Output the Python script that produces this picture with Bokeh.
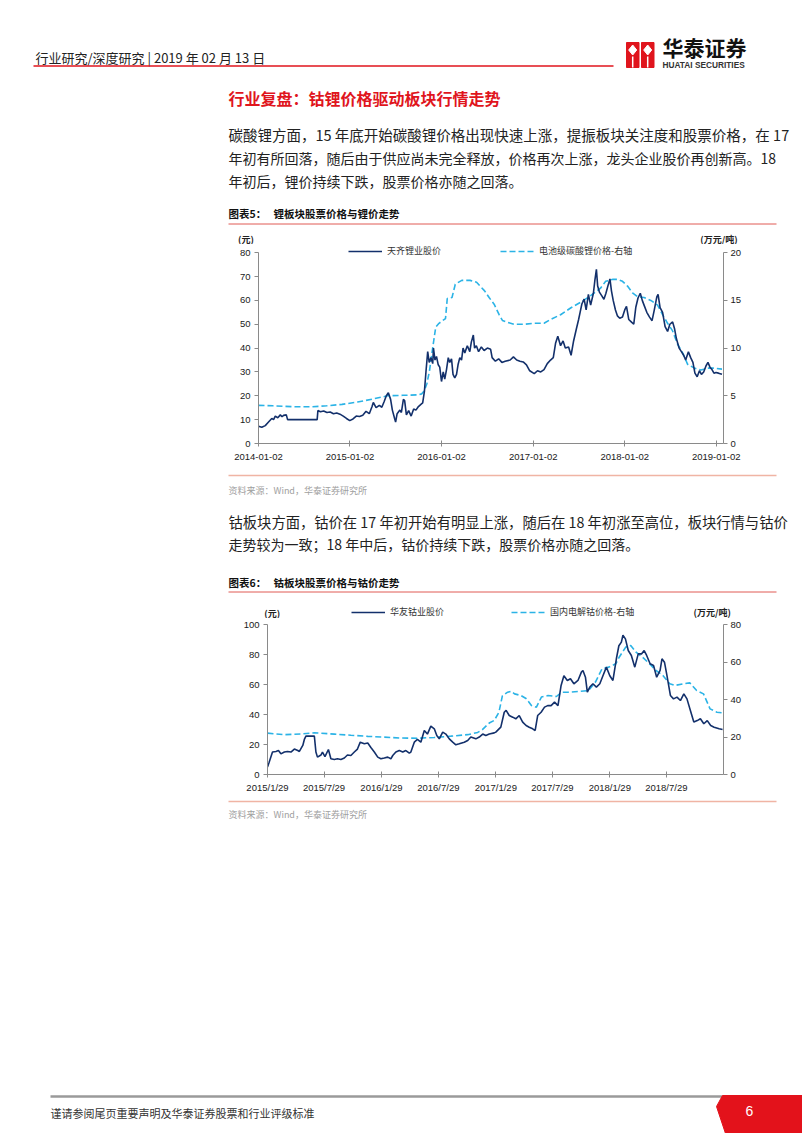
import pandas as pd
from bokeh.plotting import figure
from bokeh.layouts import column
from bokeh.models import (Range1d, LinearAxis, FixedTicker, CustomJSTickFormatter,
                          Legend, LegendItem)
from bokeh.core.properties import value
from bokeh.embed import file_html
from bokeh.resources import INLINE

# ---------------- data ----------------
# 图表5: 天齐锂业股价 (元, left axis)
tianqi = [
    ("2014-01-02", 7.2), ("2014-01-15", 6.8), ("2014-01-29", 7.5), ("2014-02-11", 9.0),
    ("2014-02-24", 10.5), ("2014-03-03", 10.0), ("2014-03-10", 11.5), ("2014-03-20", 10.8),
    ("2014-03-30", 12.0), ("2014-04-06", 11.2), ("2014-04-12", 11.8), ("2014-04-23", 12.0),
    ("2014-04-28", 10.0), ("2014-08-24", 10.0), ("2014-08-27", 13.8), ("2014-09-06", 13.3),
    ("2014-09-19", 13.6), ("2014-10-02", 13.0), ("2014-10-15", 13.2), ("2014-10-28", 12.5),
    ("2014-11-10", 12.8), ("2014-11-23", 12.3), ("2014-12-06", 11.5), ("2014-12-19", 10.5),
    ("2015-01-01", 9.6), ("2015-01-14", 10.3), ("2015-01-27", 11.5), ("2015-02-09", 11.3),
    ("2015-02-22", 11.8), ("2015-03-07", 13.5), ("2015-03-20", 12.5), ("2015-03-31", 15.5),
    ("2015-04-05", 17.2), ("2015-04-16", 15.0), ("2015-04-29", 16.0), ("2015-05-09", 15.2),
    ("2015-05-18", 17.5), ("2015-05-27", 20.0), ("2015-06-04", 21.3), ("2015-06-13", 18.5),
    ("2015-06-20", 14.0), ("2015-06-29", 10.5), ("2015-07-03", 9.0), ("2015-07-09", 12.5),
    ("2015-07-20", 14.0), ("2015-07-26", 13.0), ("2015-08-03", 18.5), ("2015-08-08", 18.0),
    ("2015-08-15", 12.0), ("2015-08-24", 13.8), ("2015-09-03", 11.5), ("2015-09-13", 14.5),
    ("2015-09-22", 14.0), ("2015-10-02", 15.5), ("2015-10-13", 16.5), ("2015-10-19", 17.0),
    ("2015-10-26", 22.0), ("2015-11-01", 30.0), ("2015-11-08", 38.5), ("2015-11-14", 34.0),
    ("2015-11-21", 36.0), ("2015-11-28", 33.5), ("2015-12-01", 40.0), ("2015-12-07", 35.0),
    ("2015-12-13", 36.5), ("2015-12-20", 33.0), ("2015-12-26", 32.0), ("2016-01-02", 26.0),
    ("2016-01-09", 30.0), ("2016-01-15", 27.0), ("2016-01-22", 31.0), ("2016-01-29", 36.0),
    ("2016-02-04", 34.0), ("2016-02-11", 35.5), ("2016-02-17", 29.0), ("2016-02-24", 27.5),
    ("2016-03-02", 29.0), ("2016-03-08", 33.0), ("2016-03-15", 36.0), ("2016-03-22", 35.0),
    ("2016-03-28", 40.0), ("2016-04-04", 38.0), ("2016-04-14", 41.0), ("2016-04-24", 38.5),
    ("2016-04-30", 42.5), ("2016-05-08", 45.5), ("2016-05-13", 40.0), ("2016-05-20", 41.0),
    ("2016-05-29", 38.5), ("2016-06-09", 40.5), ("2016-06-20", 39.0), ("2016-07-03", 40.0),
    ("2016-07-16", 39.5), ("2016-07-22", 36.0), ("2016-08-04", 34.5), ("2016-08-17", 35.5),
    ("2016-08-30", 34.0), ("2016-09-12", 34.5), ("2016-10-02", 35.0), ("2016-10-15", 36.3),
    ("2016-10-28", 35.0), ("2016-11-10", 34.5), ("2016-11-23", 34.2), ("2016-12-06", 33.0),
    ("2016-12-19", 30.5), ("2017-01-06", 29.3), ("2017-01-19", 30.5), ("2017-02-01", 30.0),
    ("2017-02-14", 31.0), ("2017-02-27", 33.5), ("2017-03-12", 35.0), ("2017-03-23", 36.0),
    ("2017-04-01", 42.0), ("2017-04-10", 45.0), ("2017-04-21", 41.0), ("2017-05-01", 43.0),
    ("2017-05-10", 40.0), ("2017-05-23", 40.5), ("2017-06-02", 37.0), ("2017-06-12", 43.0),
    ("2017-06-23", 48.0), ("2017-07-02", 52.0), ("2017-07-08", 55.0), ("2017-07-15", 58.5),
    ("2017-07-24", 60.5), ("2017-08-01", 56.0), ("2017-08-10", 62.5), ("2017-08-19", 58.0),
    ("2017-08-30", 63.0), ("2017-09-05", 68.5), ("2017-09-11", 73.0), ("2017-09-16", 66.0),
    ("2017-09-23", 63.5), ("2017-10-02", 62.0), ("2017-10-11", 60.5), ("2017-10-19", 63.0),
    ("2017-10-28", 66.5), ("2017-11-04", 69.0), ("2017-11-10", 64.0), ("2017-11-17", 60.0),
    ("2017-11-26", 56.0), ("2017-12-04", 53.5), ("2017-12-13", 52.5), ("2017-12-24", 53.0),
    ("2018-01-02", 56.0), ("2018-01-09", 57.5), ("2018-01-18", 52.0), ("2018-01-28", 51.0),
    ("2018-02-07", 50.0), ("2018-02-15", 57.0), ("2018-02-24", 61.0), ("2018-03-05", 63.0),
    ("2018-03-13", 60.0), ("2018-03-22", 57.5), ("2018-03-31", 55.0), ("2018-04-11", 53.0),
    ("2018-04-21", 51.5), ("2018-04-30", 56.0), ("2018-05-10", 61.5), ("2018-05-15", 62.5),
    ("2018-05-23", 57.0), ("2018-06-02", 55.0), ("2018-06-12", 49.0), ("2018-06-22", 47.0),
    ("2018-07-01", 50.0), ("2018-07-12", 51.0), ("2018-07-20", 48.0), ("2018-07-27", 44.0),
    ("2018-08-07", 40.0), ("2018-08-16", 38.5), ("2018-08-25", 37.0), ("2018-09-02", 35.0),
    ("2018-09-13", 38.5), ("2018-09-22", 36.0), ("2018-10-01", 34.0), ("2018-10-09", 29.5),
    ("2018-10-18", 28.0), ("2018-10-27", 30.5), ("2018-11-04", 29.0), ("2018-11-13", 30.0),
    ("2018-11-22", 32.5), ("2018-11-30", 34.0), ("2018-12-08", 32.0), ("2018-12-16", 31.0),
    ("2018-12-24", 29.5), ("2019-01-01", 29.8), ("2019-01-11", 29.5), ("2019-01-25", 29.0),
]
# 图表5: 电池级碳酸锂价格 (万元/吨, right axis)
li2co3 = [
    ("2014-01-02", 4.0), ("2014-03-01", 3.95), ("2014-06-01", 3.85), ("2014-08-01", 3.85),
    ("2014-10-01", 3.95), ("2014-12-01", 4.1), ("2015-02-01", 4.35), ("2015-04-01", 4.65),
    ("2015-06-01", 5.0), ("2015-08-01", 5.05), ("2015-10-01", 5.1), ("2015-10-15", 5.2),
    ("2015-10-25", 5.5), ("2015-11-05", 6.3), ("2015-11-15", 7.6), ("2015-11-25", 9.5),
    ("2015-12-10", 12.2), ("2015-12-23", 12.6), ("2016-01-18", 13.1), ("2016-01-25", 15.2),
    ("2016-02-13", 15.3), ("2016-02-26", 16.7), ("2016-03-23", 17.1), ("2016-04-25", 17.1),
    ("2016-05-21", 16.9), ("2016-06-22", 16.0), ("2016-07-10", 15.3), ("2016-07-30", 14.6),
    ("2016-08-19", 13.5), ("2016-09-01", 12.9), ("2016-09-21", 12.7), ("2016-10-17", 12.5),
    ("2016-11-26", 12.5), ("2017-01-06", 12.6), ("2017-02-14", 12.6), ("2017-03-12", 13.0),
    ("2017-04-21", 13.5), ("2017-05-31", 14.2), ("2017-07-10", 14.8), ("2017-08-19", 15.5),
    ("2017-09-28", 16.3), ("2017-10-18", 17.0), ("2017-11-14", 17.2), ("2017-12-04", 17.2),
    ("2017-12-24", 17.0), ("2018-01-13", 16.5), ("2018-02-02", 15.8), ("2018-02-22", 15.4),
    ("2018-03-20", 15.3), ("2018-04-16", 15.0), ("2018-05-13", 14.5), ("2018-06-02", 13.5),
    ("2018-06-22", 12.6), ("2018-07-12", 11.8), ("2018-08-01", 10.4), ("2018-08-21", 9.5),
    ("2018-09-10", 8.3), ("2018-10-07", 7.9), ("2018-11-02", 7.7), ("2018-11-29", 7.9),
    ("2018-12-25", 7.9), ("2019-01-25", 7.8),
]
# 图表6: 华友钴业股价 (元, left axis)
huayou = [
    ("2015-01-29", 5.0), ("2015-02-03", 8.0), ("2015-02-14", 15.0), ("2015-02-25", 15.4),
    ("2015-03-05", 16.0), ("2015-03-13", 13.8), ("2015-03-24", 15.0), ("2015-04-03", 15.4),
    ("2015-04-14", 15.0), ("2015-04-25", 17.0), ("2015-05-06", 16.0), ("2015-05-11", 15.4),
    ("2015-05-22", 19.4), ("2015-05-27", 23.4), ("2015-06-01", 25.6), ("2015-06-28", 25.6),
    ("2015-07-03", 15.0), ("2015-07-08", 11.6), ("2015-07-19", 13.0), ("2015-07-24", 15.0),
    ("2015-08-01", 12.0), ("2015-08-12", 16.7), ("2015-08-20", 10.5), ("2015-08-31", 10.0),
    ("2015-09-10", 10.5), ("2015-09-21", 10.0), ("2015-10-02", 11.0), ("2015-10-12", 13.0),
    ("2015-10-23", 12.7), ("2015-11-03", 15.0), ("2015-11-13", 17.0), ("2015-11-22", 21.6),
    ("2015-12-05", 20.5), ("2015-12-16", 21.0), ("2015-12-26", 18.0), ("2016-01-06", 15.0),
    ("2016-01-17", 11.6), ("2016-01-27", 10.5), ("2016-02-07", 11.0), ("2016-02-18", 11.6),
    ("2016-02-28", 10.5), ("2016-03-05", 12.7), ("2016-03-15", 15.0), ("2016-03-26", 16.0),
    ("2016-04-06", 15.0), ("2016-04-16", 16.0), ("2016-04-27", 14.3), ("2016-05-02", 15.0),
    ("2016-05-13", 21.6), ("2016-05-23", 23.4), ("2016-06-03", 21.6), ("2016-06-14", 29.4),
    ("2016-06-24", 27.0), ("2016-07-05", 32.3), ("2016-07-16", 30.5), ("2016-07-24", 26.0),
    ("2016-08-01", 23.8), ("2016-08-12", 28.3), ("2016-08-22", 27.0), ("2016-09-02", 23.8),
    ("2016-09-13", 21.6), ("2016-09-23", 19.8), ("2016-10-04", 20.5), ("2016-10-20", 21.6),
    ("2016-10-31", 22.7), ("2016-11-10", 25.0), ("2016-11-26", 23.8), ("2016-12-07", 25.0),
    ("2016-12-18", 27.0), ("2016-12-28", 26.0), ("2017-01-08", 27.0), ("2017-01-24", 27.8),
    ("2017-01-29", 28.3), ("2017-02-14", 31.6), ("2017-02-25", 41.6), ("2017-03-03", 42.8),
    ("2017-03-13", 39.4), ("2017-03-24", 38.3), ("2017-04-03", 37.2), ("2017-04-14", 39.4),
    ("2017-04-25", 35.0), ("2017-05-06", 32.7), ("2017-05-16", 31.6), ("2017-05-27", 30.5),
    ("2017-06-04", 29.4), ("2017-06-12", 39.4), ("2017-06-23", 41.6), ("2017-07-04", 45.0),
    ("2017-07-14", 46.0), ("2017-07-25", 46.0), ("2017-08-05", 48.3), ("2017-08-16", 46.0),
    ("2017-08-26", 59.5), ("2017-09-04", 66.0), ("2017-09-15", 62.8), ("2017-09-25", 64.0),
    ("2017-10-06", 60.6), ("2017-10-19", 62.8), ("2017-10-30", 68.4), ("2017-11-04", 69.5),
    ("2017-11-12", 65.0), ("2017-11-18", 55.0), ("2017-11-26", 58.4), ("2017-12-06", 60.6),
    ("2017-12-17", 58.4), ("2017-12-28", 60.6), ("2018-01-07", 66.0), ("2018-01-18", 71.7),
    ("2018-01-29", 66.0), ("2018-02-08", 62.8), ("2018-02-19", 77.3), ("2018-02-27", 86.0),
    ("2018-03-07", 88.4), ("2018-03-12", 93.0), ("2018-03-20", 90.6), ("2018-03-29", 82.8),
    ("2018-04-08", 79.5), ("2018-04-19", 71.7), ("2018-04-30", 80.6), ("2018-05-11", 80.6),
    ("2018-05-19", 82.8), ("2018-05-27", 79.5), ("2018-06-07", 74.0), ("2018-06-18", 72.8),
    ("2018-06-28", 65.0), ("2018-07-09", 69.5), ("2018-07-15", 77.3), ("2018-07-23", 75.0),
    ("2018-07-31", 66.0), ("2018-08-11", 52.8), ("2018-08-21", 50.5), ("2018-09-01", 51.7),
    ("2018-09-12", 49.4), ("2018-09-23", 53.9), ("2018-10-03", 50.5), ("2018-10-14", 42.8),
    ("2018-10-25", 35.0), ("2018-11-05", 36.0), ("2018-11-15", 37.2), ("2018-11-26", 33.9),
    ("2018-12-07", 36.0), ("2018-12-18", 32.7), ("2018-12-29", 31.6), ("2019-01-14", 30.5),
    ("2019-01-25", 30.0),
]
# 图表6: 国内电解钴价格 (万元/吨, right axis)
cobalt = [
    ("2015-01-29", 22.1), ("2015-03-24", 21.3), ("2015-05-17", 21.7), ("2015-06-28", 22.3),
    ("2015-08-31", 21.6), ("2015-10-23", 21.0), ("2015-12-16", 20.4), ("2016-02-07", 20.0),
    ("2016-03-31", 19.5), ("2016-05-23", 19.4), ("2016-07-16", 19.8), ("2016-09-07", 20.5),
    ("2016-10-31", 21.3), ("2016-12-02", 22.5), ("2016-12-17", 24.0), ("2017-01-08", 27.5),
    ("2017-01-24", 28.9), ("2017-02-08", 33.3), ("2017-02-19", 42.0), ("2017-03-08", 44.0),
    ("2017-03-19", 44.5), ("2017-03-30", 43.1), ("2017-04-20", 42.2), ("2017-05-07", 40.5),
    ("2017-05-23", 36.9), ("2017-06-08", 36.0), ("2017-06-24", 41.4), ("2017-07-15", 42.2),
    ("2017-08-11", 41.7), ("2017-08-28", 44.0), ("2017-09-18", 44.0), ("2017-10-20", 44.4),
    ("2017-11-22", 44.9), ("2017-12-14", 49.4), ("2018-01-04", 56.5), ("2018-01-26", 57.4),
    ("2018-02-17", 59.2), ("2018-02-28", 62.7), ("2018-03-21", 68.1), ("2018-04-06", 69.0),
    ("2018-04-23", 65.4), ("2018-05-14", 62.7), ("2018-06-05", 59.2), ("2018-06-26", 55.6),
    ("2018-07-18", 52.9), ("2018-08-09", 48.5), ("2018-08-25", 47.6), ("2018-09-21", 48.5),
    ("2018-10-12", 49.0), ("2018-11-03", 44.9), ("2018-11-25", 43.1), ("2018-12-16", 35.1),
    ("2019-01-07", 33.3), ("2019-01-25", 33.0),
]
chart5_xticks = ["2014-01-02", "2015-01-02", "2016-01-02", "2017-01-02", "2018-01-02", "2019-01-02"]
chart5_left_ticks = [0, 10, 20, 30, 40, 50, 60, 70, 80]
chart5_right_ticks = [0, 5, 10, 15, 20]
chart6_xticks = ["2015-01-29", "2015-07-29", "2016-01-29", "2016-07-29",
                 "2017-01-29", "2017-07-29", "2018-01-29", "2018-07-29"]
chart6_left_ticks = [0, 20, 40, 60, 80, 100]
chart6_right_ticks = [0, 20, 40, 60, 80]

# ---------------- styles ----------------
CJK = "Noto Sans CJK SC"
LAT = "Liberation Sans"
RED = "#e0151d"
NAVY = "#13306b"
CYAN = "#2bb3e6"
AXC = "#8a8a8a"
W = 802


def ser(pairs):
    d = pd.to_datetime([a for a, b in pairs])
    v = [b for a, b in pairs]
    return d, v


def ms(dates):
    return [pd.Timestamp(d).value // 10**6 for d in dates]


def deco(top, bottom):
    p = figure(width=W, height=bottom - top, x_range=Range1d(0, W),
               y_range=Range1d(bottom, top), x_axis_type=None, y_axis_type=None,
               toolbar_location=None, output_backend="svg", min_border=0,
               frame_align=False)
    p.outline_line_color = None
    return p


def txt(p, x, y, s, size, color="#222222", font=CJK, style="normal", align="left"):
    p.text(x=[x], y=[y], text=[s], text_font=value(font), text_font_size=value(f"{size}px"),
           text_color=color, text_font_style=style, text_align=align, text_baseline="middle")


def hline(p, x0, x1, y, color, width, dash="solid"):
    p.segment(x0=[x0], y0=[y], x1=[x1], y1=[y], line_color=color, line_width=width,
              line_dash=dash)


def style_axis(ax, tin, tout, standoff):
    ax.axis_line_color = AXC
    ax.major_tick_line_color = AXC
    ax.minor_tick_line_color = None
    ax.major_tick_in = tin
    ax.major_tick_out = tout
    ax.major_label_standoff = standoff
    ax.major_label_text_font = LAT
    ax.major_label_text_font_size = "9.5px"
    ax.major_label_text_color = "#1a1a1a"


def chart(height, mbl, mbr, mbt, mbb, xr, ytop, ytop_r, lticks, rticks, lb, rb, xticks, fmt,
          xstand):
    p = figure(width=W, height=height, x_axis_type="datetime",
               x_range=Range1d(pd.Timestamp(xr[0]), pd.Timestamp(xr[1])),
               y_range=Range1d(0, ytop), toolbar_location=None, output_backend="svg",
               min_border_left=mbl, min_border_right=mbr, min_border_top=mbt,
               min_border_bottom=mbb, frame_align=False)
    p.outline_line_color = None
    p.xgrid.visible = False
    p.ygrid.visible = False
    p.extra_y_ranges = {"r": Range1d(0, ytop_r)}
    ra = LinearAxis(y_range_name="r")
    p.add_layout(ra, "right")
    xa = p.xaxis[0]
    la = p.yaxis[0]
    style_axis(xa, 3, 3, xstand)
    style_axis(la, 0, 4, 4)
    style_axis(ra, 0, 4, 3)
    xa.ticker = FixedTicker(ticks=ms(xticks))
    xa.formatter = CustomJSTickFormatter(code=fmt)
    la.ticker = FixedTicker(ticks=lticks)
    ra.ticker = FixedTicker(ticks=rticks)
    la.bounds = lb
    ra.bounds = rb
    return p


def legend(p, items, loc, spacing):
    lg = Legend(items=items, location=loc, orientation="horizontal", glyph_width=34,
                glyph_height=12, label_height=12, label_width=10, label_standoff=5,
                spacing=spacing, padding=0, margin=0, border_line_color=None,
                background_fill_alpha=0, label_text_font=CJK, label_text_font_size="9px",
                label_text_color="#333333")
    p.add_layout(lg)


FMT_DASH = """
const d = new Date(tick);
const m = String(d.getUTCMonth() + 1).padStart(2, '0');
const dd = String(d.getUTCDate()).padStart(2, '0');
return d.getUTCFullYear() + '-' + m + '-' + dd;
"""
FMT_SLASH = """
const d = new Date(tick);
return d.getUTCFullYear() + '/' + (d.getUTCMonth() + 1) + '/' + d.getUTCDate();
"""

# ---------------- top block (page y 0..244) ----------------
top = deco(0, 244)
txt(top, 35, 57, "行业研究/深度研究 | 2019 年 02 月 13 日", 13, "#222222")
hline(top, 33, 613, 65.5, RED, 1.6)
# logo
top.patch(x=[626, 638.5, 638.5, 626], y=[42, 42, 67, 67], color=RED)
top.patch(x=[641, 653.5, 653.5, 641], y=[42, 42, 67, 67], color=RED)
top.patch(x=[632.2, 636.2, 632.2, 628.2], y=[44.5, 49.5, 54.5, 49.5], color="white")
top.patch(x=[647.2, 651.2, 647.2, 643.2], y=[44.5, 49.5, 54.5, 49.5], color="white")
top.segment(x0=[632.2, 647.2], y0=[56, 56], x1=[632.2, 647.2], y1=[67, 67],
            line_color="white", line_width=1.5)
txt(top, 662, 46, "华泰证券", 21, "#111111", style="bold")
txt(top, 662, 64.5, "HUATAI SECURITIES", 8.3, "#333333", font=LAT, style="bold")
txt(top, 228, 97, "行业复盘：钴锂价格驱动板块行情走势", 16, RED, style="bold")
txt(top, 228, 134, "碳酸锂方面，15 年底开始碳酸锂价格出现快速上涨，提振板块关注度和股票价格，在 17", 14.5)
txt(top, 228, 157, "年初有所回落，随后由于供应尚未完全释放，价格再次上涨，龙头企业股价再创新高。18", 14)
txt(top, 228, 180, "年初后，锂价持续下跌，股票价格亦随之回落。", 14)
txt(top, 228, 213, "图表5：", 10.5, "#111111", style="bold")
txt(top, 273, 213, "锂板块股票价格与锂价走势", 10.5, "#111111", style="bold")
hline(top, 228, 776, 223.5, "#e05a55", 1)
txt(top, 245.5, 238.5, "(元)", 9, "#222222", style="bold", align="center")
txt(top, 718.5, 238.5, "(万元/吨)", 9, "#222222", style="bold", align="center")

# ---------------- chart 5 (page y 244..470) ----------------
c5 = chart(226, 258, 79, 0, 27, ("2014-01-02", "2019-01-31"), 83.44, 20.86,
           chart5_left_ticks, chart5_right_ticks, (0, 80), (0, 20), chart5_xticks, FMT_DASH, 7)
d1, v1 = ser(tianqi)
d2, v2 = ser(li2co3)
r52 = c5.line(x=d2, y=v2, y_range_name="r", line_color=CYAN, line_width=1.6, line_dash="6 3")
r51 = c5.line(x=d1, y=v1, line_color=NAVY, line_width=1.6)
legend(c5, [LegendItem(label="天齐锂业股价", renderers=[r51]),
            LegendItem(label="电池级碳酸锂价格-右轴", renderers=[r52])], (90, 186), 59)

# ---------------- middle block (page y 470..618) ----------------
mid = deco(470, 618)
hline(mid, 228, 776, 475, "#f0b4a4", 1.5)
txt(mid, 228, 490, "资料来源：Wind，华泰证券研究所", 9, "#a0a0a0")
txt(mid, 228, 521, "钴板块方面，钴价在 17 年初开始有明显上涨，随后在 18 年初涨至高位，板块行情与钴价", 14.3)
txt(mid, 228, 543, "走势较为一致；18 年中后，钴价持续下跌，股票价格亦随之回落。", 14)
txt(mid, 228, 582, "图表6：", 10.5, "#111111", style="bold")
txt(mid, 273, 582, "钴板块股票价格与钴价走势", 10.5, "#111111", style="bold")
hline(mid, 228, 776, 591.5, "#e05a55", 1)
txt(mid, 271.7, 612.5, "(元)", 9, "#222222", style="bold", align="center")
txt(mid, 711.7, 612, "(万元/吨)", 9, "#222222", style="bold", align="center")
# legend samples of chart 6 (placeholder renderers lying outside the visible range)
k61 = mid.line(x=[-60, -50], y=[-60, -60], line_color=NAVY, line_width=1.6)
k62 = mid.line(x=[-60, -50], y=[-60, -60], line_color=CYAN, line_width=1.6, line_dash="6 3")
legend(mid, [LegendItem(label="华友钴业股价", renderers=[k61]),
             LegendItem(label="国内电解钴价格-右轴", renderers=[k62])], (351, 0), 67)

# ---------------- chart 6 (page y 618..797) ----------------
c6 = chart(179, 267, 79, 0, 23, ("2015-01-29", "2019-01-28"), 104.2, 83.4,
           chart6_left_ticks, chart6_right_ticks, (0, 100), (0, 80), chart6_xticks, FMT_SLASH, 4)
d3, v3 = ser(huayou)
d4, v4 = ser(cobalt)
c6.line(x=d4, y=v4, y_range_name="r", line_color=CYAN, line_width=1.6, line_dash="6 3")
c6.line(x=d3, y=v3, line_color=NAVY, line_width=1.6)

# ---------------- bottom block (page y 797..1133) ----------------
bot = deco(797, 1133)
hline(bot, 228, 776, 801, "#f0b4a4", 1.5)
txt(bot, 228, 814, "资料来源：Wind，华泰证券研究所", 9, "#a0a0a0")
hline(bot, 50, 722, 1096, "#9a9a9a", 2.5)
bot.patch(x=[724, 802, 802, 727, 718], y=[1096.5, 1096.5, 1133, 1133, 1107.5], color="#8c8c8c")
bot.patch(x=[722, 802, 802, 725, 716], y=[1095, 1095, 1133, 1133, 1106], color="#e3121b")
txt(bot, 749, 1110.5, "6", 14, "white", font=LAT, align="center")
txt(bot, 50, 1112, "谨请参阅尾页重要声明及华泰证券股票和行业评级标准", 11, "#333333")

page = column(top, c5, mid, c6, bot, spacing=0)
open("out.html", "w").write(file_html(page, INLINE))
